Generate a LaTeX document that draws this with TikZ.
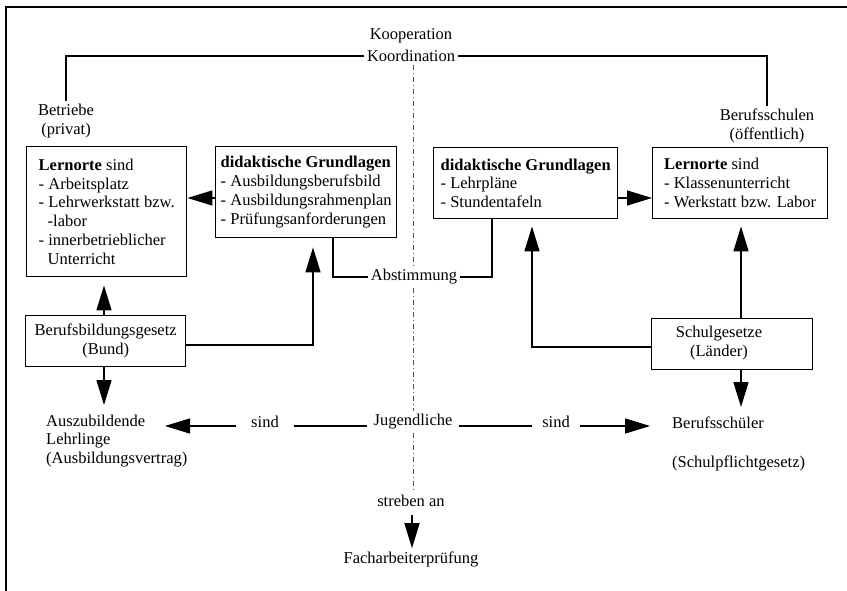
\documentclass[tikz,border=0pt]{standalone}
\usepackage{fontspec}
\setmainfont{Liberation Serif}
\usetikzlibrary{arrows.meta}
\begin{document}
\begin{tikzpicture}[x=1pt,y=-1pt,
  every node/.style={font=\fontsize{16.5}{18.8}\selectfont, text=black},
  box/.style={draw, line width=1.4pt, anchor=north west, align=left, inner sep=0pt},
  lbl/.style={inner sep=3pt},
  conn/.style={line width=1.4pt},
  arr/.style={conn, -{Triangle[length=25pt,width=15pt]}},
  axisline/.style={line width=0.6pt, dash pattern=on 5pt off 3pt on 1pt off 3pt, black!70},
  frame/.style={line width=1.6pt}
]
\useasboundingbox (0,0) rectangle (847,591);
\draw[frame] (6,591) -- (6,7) -- (847,7);

% boxes
\node[box, minimum width=160pt, minimum height=130pt] (lernL) at (26,146)
  {\textbf{Lernorte} sind\\- Arbeitsplatz\\- Lehrwerkstatt bzw.\\\hspace*{9pt}-labor\\- innerbetrieblicher\\\hspace*{9pt}Unterricht};
\node[box, minimum width=181pt, minimum height=91pt] (didL) at (215,146)
  {\textbf{didaktische Grundlagen}\\- Ausbildungsberufsbild\\- Ausbildungsrahmenplan\\- Prüfungsanforderungen};
\node[box, minimum width=184pt, minimum height=71pt] (didR) at (433,147)
  {\textbf{didaktische Grundlagen}\\- Lehrpläne\\- Stundentafeln};
\node[box, minimum width=175pt, minimum height=71pt] (lernR) at (652,147)
  {\textbf{Lernorte} sind\\- Klassenunterricht\\- Werkstatt bzw. Labor};
\node[box, align=center, minimum width=160pt, minimum height=51pt] (bbg) at (25,315)
  {Berufsbildungsgesetz\\(Bund)};
\node[box, minimum width=161pt, minimum height=51pt] (sg) at (651,318) {};
\node[align=center, inner sep=0pt] (sgtext) at (719,343) {Schulgesetze\\(Länder)};

% labels
\node[lbl] (koop) at (411,36) {Kooperation};
\node[lbl] (koord) at (411,56) {Koordination};
\node[align=center] (betr) at (66,121) {Betriebe\\(privat)};
\node[align=center] (bs) at (767,126) {Berufsschulen\\(öffentlich)};
\node[lbl] (abst) at (414,277) {Abstimmung};
\node[align=left, anchor=west, inner sep=0pt] (azubi) at (46,441)
  {Auszubildende\\Lehrlinge\\(Ausbildungsvertrag)};
\node[inner xsep=6pt] (jug) at (413,422) {Jugendliche};
\node[inner xsep=15pt] (sindL) at (265,422) {sind};
\node[inner xsep=10pt] (sindR) at (556,422) {sind};
\node[anchor=west, inner sep=0pt] (bschueler) at (672,423) {Berufsschüler};
\node[anchor=west, inner sep=0pt] (schulpf) at (672,463) {(Schulpflichtgesetz)};
\node[lbl] (streb) at (411,501) {streben an};
\node[lbl] (fach) at (411,559) {Facharbeiterprüfung};

% helper coordinates
\coordinate (hL) at (0,198);
\coordinate (abL) at (333,0);
\coordinate (abR) at (492,0);
\coordinate (xL) at (104,0);
\coordinate (xM) at (313,0);
\coordinate (bbgy) at (0,345);
\coordinate (azubiArr) at (104,405);
\coordinate (xR) at (741,0);
\coordinate (xN) at (532,0);
\coordinate (sgy) at (0,347);
\coordinate (sgArr) at (741,407);
\coordinate (hB) at (0,426);
\coordinate (azTip) at (165,426);
\coordinate (bsTip) at (650,426);
\coordinate (ax) at (413,0);
\coordinate (fx) at (412,0);

% top cooperation line
\draw[conn] (koord.west) -| (betr.north);
\draw[conn] (koord.east) -| (bs.north);

% dashed axis
\draw[axisline] (koord.south -| ax) -- (abst.north -| ax);
\draw[axisline] (abst.south -| ax) -- (jug.north -| ax);
\draw[axisline] (jug.south -| ax) -- (streb.north -| ax);

% didaktik -> lernorte
\draw[arr] (didL.west |- hL) -- (lernL.east |- hL);
\draw[arr] (didR.east |- hL) -- (lernR.west |- hL);

% Abstimmung
\draw[conn] (didL.south -| abL) |- (abst.west);
\draw[conn] (didR.south -| abR) |- (abst.east);

% Berufsbildungsgesetz
\draw[arr, shorten >=8pt] (bbg.north -| xL) -- (lernL.south -| xL);
\draw[arr] (bbg.south -| xL) -- (azubiArr);
\draw[arr, shorten >=9pt] (bbg.east |- bbgy) -| (didL.south -| xM);

% Schulgesetze
\draw[arr, shorten >=7pt] (sg.north -| xR) -- (lernR.south -| xR);
\draw[arr] (sg.south -| xR) -- (sgArr);
\draw[arr, shorten >=7pt] (sg.west |- sgy) -| (didR.south -| xN);

% Jugendliche
\draw[conn] (jug.west |- hB) -- (sindL.east |- hB);
\draw[arr] (sindL.west |- hB) -- (azTip);
\draw[conn] (jug.east |- hB) -- (sindR.west |- hB);
\draw[arr] (sindR.east |- hB) -- (bsTip);

% streben an
\draw[arr, shorten <=5pt] (streb.south -| fx) -- (fach.north -| fx);
\end{tikzpicture}
\end{document}
